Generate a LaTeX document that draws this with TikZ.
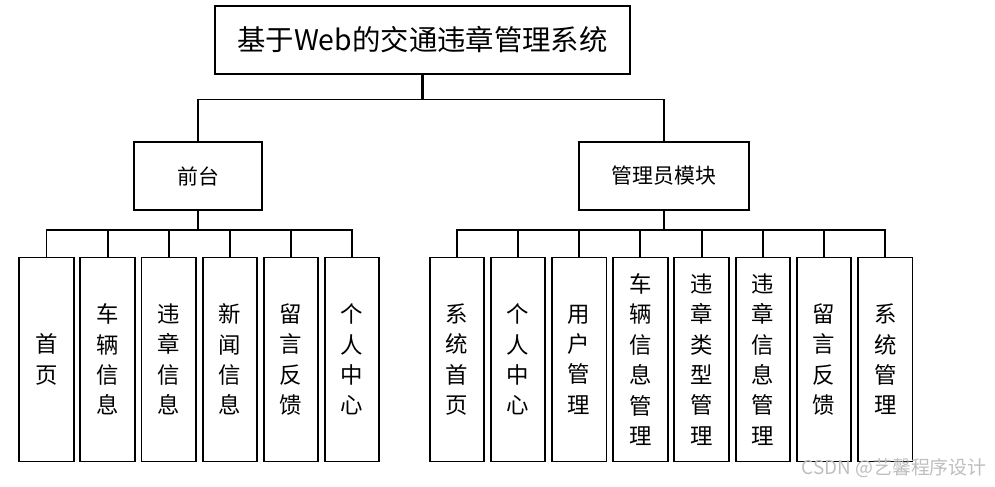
\documentclass[tikz,border=0pt]{standalone}
\usepackage{fontspec}
\setmainfont{Noto Sans CJK SC}
\usepackage{tikz}
\usetikzlibrary{calc, positioning}
\definecolor{LineColour}{RGB}{0,0,0}
\definecolor{markgrey}{RGB}{190,190,190}

\begin{document}
\begin{tikzpicture}[x=1bp, y=-1bp, line width=1.9bp,
    box/.style={draw=LineColour, fill=white, inner sep=0pt, align=center},
    leaf/.style={box, minimum width=54.5bp, minimum height=204bp,
      font=\fontsize{22.5}{30.5}\selectfont}]
  \useasboundingbox (0,0) rectangle (995,487);

  \node[box, minimum width=415bp, minimum height=68bp, font=\fontsize{28.5}{32}\selectfont]
    (root) at (422.5,40) {基于Web的交通违章管理系统};
  \node[box, minimum width=128bp, minimum height=68bp, font=\fontsize{21}{25}\selectfont]
    (front) at (198,176) {前台};
  \node[box, minimum width=170bp, minimum height=68bp, font=\fontsize{21}{25}\selectfont]
    (admin) at (664,176) {管理员模块};

  \coordinate (rj) at (root.south |- 0,99.5);
  \draw[line width=2.4bp] (root.south) -- (rj);
  \draw (front.north) |- (rj) -| (admin.north);

  % front leaves
  \foreach \t [count=\i] in {{首\\页}, {车\\辆\\信\\息}, {违\\章\\信\\息},
      {新\\闻\\信\\息}, {留\\言\\反\\馈}, {个\\人\\中\\心}} {
    \node[leaf] (f\i) at ({46.5+61.1*(\i-1)},359.5) {\t};
  }
  \coordinate (fj) at (front.south |- 0,230);
  \draw[line width=2.4bp] (front.south) -- (fj);
  \foreach \i in {1,...,6}
    \draw (f\i.north) |- (fj);

  % admin leaves
  \foreach \t [count=\i] in {{系\\统\\首\\页}, {个\\人\\中\\心}, {用\\户\\管\\理},
      {车\\辆\\信\\息\\管\\理}, {违\\章\\类\\型\\管\\理}, {违\\章\\信\\息\\管\\理},
      {留\\言\\反\\馈}, {系\\统\\管\\理}} {
    \node[leaf] (a\i) at ({456.8+61.2*(\i-1)},359.5) {\t};
  }
  \coordinate (aj) at (admin.south |- 0,230);
  \draw[line width=2.4bp] (admin.south) -- (aj);
  \foreach \i in {1,...,8}
    \draw (a\i.north) |- (aj);

  \node[anchor=east, text=markgrey, font=\fontsize{19}{22}\selectfont]
    (mark) at (991,468) {CSDN @艺馨程序设计};
\end{tikzpicture}
\end{document}
